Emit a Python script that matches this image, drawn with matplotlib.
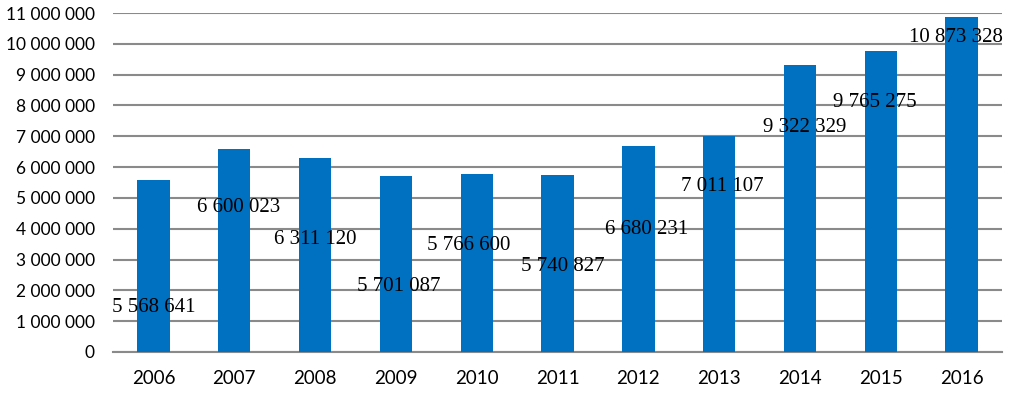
import numpy as np
import matplotlib.pyplot as plt
from matplotlib.ticker import FuncFormatter

years = ['2006', '2007', '2008', '2009', '2010', '2011', '2012', '2013', '2014', '2015', '2016']
values = [5568641, 6600023, 6311120, 5701087, 5766600, 5740827, 6680231, 7011107, 9322329, 9765275, 10873328]

# where the data labels sit (y in data units, x shift in categories)
label_y = [1.46e6, 4.7e6, 3.64e6, 2.11e6, 3.44e6, 2.76e6, 3.96e6, 5.36e6, 7.27e6, 8.1e6, 10.2e6]
label_dx = [0.0, 0.06, 0.0, 0.04, -0.1, 0.07, 0.1, 0.04, 0.06, -0.07, -0.07]

def spaced(v, pos=None):
	return '{:,}'.format(int(v)).replace(',', ' ')

fig = plt.figure(figsize=(10.23, 3.99), dpi=100)
ax = fig.add_axes([0.1105, 0.1178, 0.869, 0.8496])

x = np.arange(len(years))
ax.bar(x, values, width=0.4, color='#0070C0', zorder=3)

for i, v in enumerate(values):
	ax.text(x[i] + label_dx[i], label_y[i], spaced(v), ha='center', va='center',
			fontsize=15, family='Liberation Serif', color='black', zorder=4)

ax.set_xlim(-0.5, len(years) - 0.5)
ax.set_ylim(0, 11000000)
ax.set_yticks(np.arange(0, 11000001, 1000000))
ax.yaxis.set_major_formatter(FuncFormatter(spaced))
ax.set_xticks(x)
ax.set_xticklabels(years)

ax.grid(axis='y', color='#8a8a8a', linewidth=1.5, zorder=0)
for s in ['top', 'right', 'left']:
	ax.spines[s].set_visible(False)
ax.spines['bottom'].set_color('#8a8a8a')
ax.spines['bottom'].set_linewidth(1.5)
ax.tick_params(axis='both', length=0)
ax.tick_params(axis='x', pad=13, labelsize=13.5)
ax.tick_params(axis='y', pad=13, labelsize=12.5)
for lab in ax.get_xticklabels() + ax.get_yticklabels():
	lab.set_family('Lato')

fig.savefig('out.png', dpi=100)
